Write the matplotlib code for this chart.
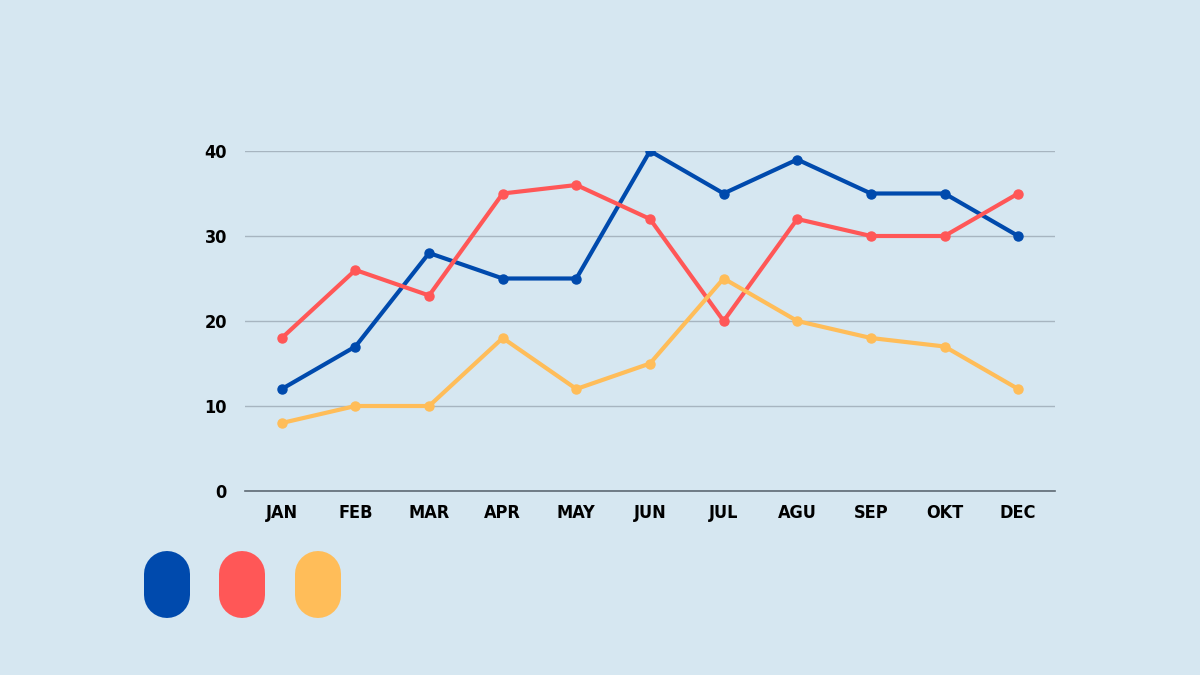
import matplotlib.pyplot as plt
from matplotlib.lines import Line2D
from matplotlib import font_manager

months = ["JAN", "FEB", "MAR", "APR", "MAY", "JUN", "JUL", "AGU", "SEP", "OKT", "DEC"]
blue_vals = [12, 17, 28, 25, 25, 40, 35, 39, 35, 35, 30]
red_vals = [18, 26, 23, 35, 36, 32, 20, 32, 30, 30, 35]
yellow_vals = [8, 10, 10, 18, 12, 15, 25, 20, 18, 17, 12]
yticks = [0, 10, 20, 30, 40]

colors = ["#004AAD", "#FF5757", "#FFBD59"]
bg = "#D6E7F1"

# condensed bold font to get close to the poster look
names = {f.name for f in font_manager.fontManager.ttflist}
fam = ["Liberation Sans Narrow", "DejaVu Sans"] if "Liberation Sans Narrow" in names else ["DejaVu Sans"]
plt.rcParams['font.family'] = fam

fig = plt.figure(figsize=(12, 6.75), dpi=100, facecolor=bg)
ax = fig.add_axes([245/1200, 1 - 491/675, 810/1200, 340/675])
ax.set_facecolor(bg)

x = range(len(months))
for vals, c in zip([blue_vals, red_vals, yellow_vals], colors):
    ax.plot(x, vals, color=c, lw=3, marker="o", ms=6.5, zorder=3)

ax.set_xlim(-0.5, len(months) - 0.5)
ax.set_ylim(0, 40)
ax.set_yticks(yticks)
ax.set_xticks(list(x))
ax.set_xticklabels(months)
ax.grid(axis="y", color="#A7B5C0", lw=1)
ax.set_axisbelow(True)
for s in ["top", "right", "left"]:
    ax.spines[s].set_visible(False)
ax.spines["bottom"].set_color("#5E6A74")
ax.spines["bottom"].set_linewidth(1.2)
ax.tick_params(length=0, labelsize=13, colors="black")
ax.tick_params(axis="x", pad=9)
ax.tick_params(axis="y", pad=13)
for lab in ax.get_xticklabels() + ax.get_yticklabels():
    lab.set_fontweight("bold")
    lab.set_fontstretch("condensed")

# pill-shaped colour keys under the chart (thick line, round caps)
for i, c in enumerate(colors):
    cx = 1.67 + i * 0.755
    pill = Line2D([cx, cx], [0.80, 1.01], lw=46 * 0.72, color=c,
                  solid_capstyle="round", transform=fig.dpi_scale_trans)
    fig.add_artist(pill)

fig.savefig("out.png", dpi=100, facecolor=bg)
